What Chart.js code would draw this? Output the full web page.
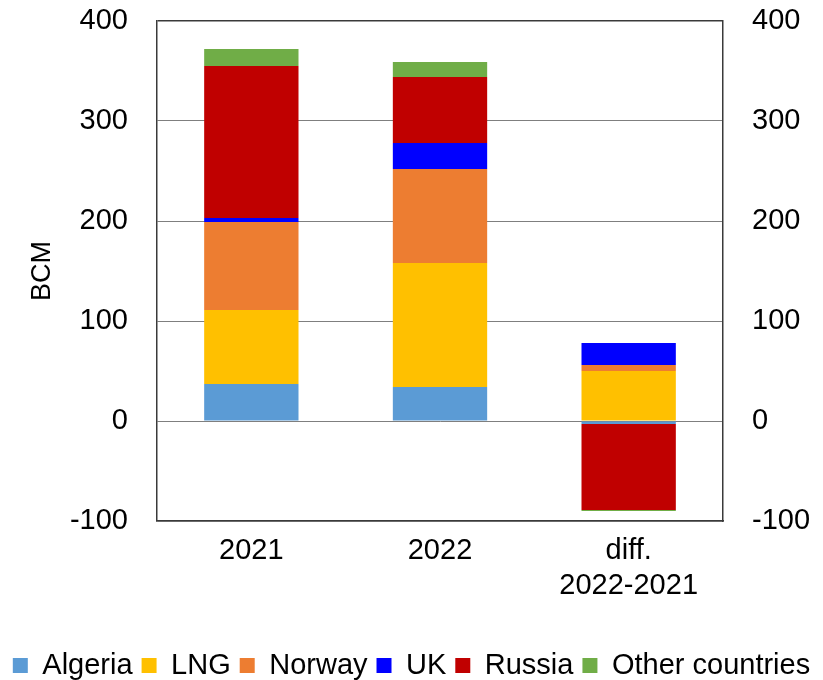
<!DOCTYPE html>
<html>
<head>
<meta charset="utf-8">
<script src="https://cdn.jsdelivr.net/npm/chart.js@4/dist/chart.umd.min.js"></script>
<style>
  html, body { margin: 0; padding: 0; background: #fff; }
  #wrap { width: 823px; height: 680px; position: relative; }
</style>
</head>
<body>
<div id="wrap"><canvas id="c"></canvas></div>
<script>
// Gas supply by source, BCM
const categories = ['2021', '2022', ['diff.', '2022-2021']];
const algeria = [37, 34, -3];
const lng     = [74, 124, 50];
const norway  = [88, 94, 6];
const uk      = [4, 26, 22];
const russia  = [152, 66, -86];
const other   = [17, 15, -1];
const yTicks  = [-100, 0, 100, 200, 300, 400];

const seriesNames  = ['Algeria', 'LNG', 'Norway', 'UK', 'Russia', 'Other countries'];
const seriesValues = [algeria, lng, norway, uk, russia, other];
const seriesColors = ['#5B9BD5', '#FFC000', '#ED7D31', '#0000FF', '#C00000', '#70AD47'];

const FONT = '"Liberation Sans", Arial, Helvetica, sans-serif';
const FRAME = '#3a3a3a';
const GRID = '#7f7f7f';

const datasets = seriesNames.map((name, i) => ({
  label: name,
  data: seriesValues[i],
  backgroundColor: seriesColors[i],
  borderWidth: 0,
  barPercentage: 0.5,
  categoryPercentage: 1.0,
  yAxisID: 'y'
}));

const tickOpts = {
  stepSize: 100,
  color: '#000',
  font: { family: FONT, size: 29 },
  padding: 29
};

// vertical axes: fixed widths, no extra room reserved above/below the plot
function fitVertical(width) {
  return (s) => {
    s.width = width;
    s.paddingTop = 0;
    s.paddingBottom = 0;
  };
}

new Chart(document.getElementById('c'), {
  type: 'bar',
  data: { labels: categories, datasets },
  options: {
    responsive: true,
    maintainAspectRatio: false,
    animation: false,
    layout: { padding: { top: 21, bottom: -10, left: 0, right: 0 } },
    plugins: {
      tooltip: { enabled: false },
      legend: {
        position: 'bottom',
        labels: {
          color: '#000',
          font: { family: FONT, size: 29 },
          boxWidth: 15,
          boxHeight: 15,
          padding: 9
        }
      }
    },
    scales: {
      x: {
        stacked: true,
        grid: { display: false, drawTicks: false },
        border: { display: true, color: FRAME, width: 1.5 },
        ticks: {
          color: '#000',
          font: { family: FONT, size: 29, lineHeight: 1.2 },
          padding: 13,
          maxRotation: 0
        },
        afterFit: (s) => { s.height = 121; }
      },
      y: {
        stacked: true,
        position: 'left',
        min: -100,
        max: 400,
        afterBuildTicks: (s) => { s.ticks = yTicks.map(v => ({ value: v })); },
        grid: {
          drawTicks: false,
          lineWidth: (ctx) => (ctx.tick && (ctx.tick.value === 400 || ctx.tick.value === -100)) ? 1.5 : 1,
          color: (ctx) => (ctx.tick && (ctx.tick.value === 400 || ctx.tick.value === -100)) ? FRAME : GRID
        },
        border: { display: true, color: FRAME, width: 1.5 },
        ticks: tickOpts,
        title: {
          display: true,
          text: 'BCM',
          color: '#000',
          font: { family: FONT, size: 27, lineHeight: 1.2 },
          padding: { top: 26, bottom: 0 }
        },
        afterFit: fitVertical(157)
      },
      y2: {
        position: 'right',
        min: -100,
        max: 400,
        afterBuildTicks: (s) => { s.ticks = yTicks.map(v => ({ value: v })); },
        grid: { display: false, drawTicks: false },
        border: { display: true, color: FRAME, width: 1.5 },
        ticks: tickOpts,
        afterFit: fitVertical(100)
      }
    }
  }
});
</script>
</body>
</html>
